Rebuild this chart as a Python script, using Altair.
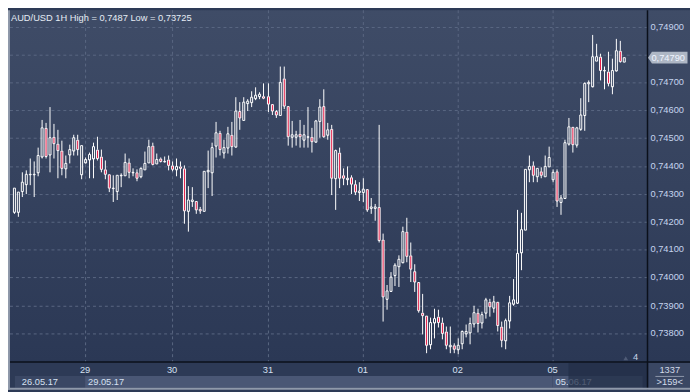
import altair as alt
import pandas as pd

title_text = "AUD/USD 1H High = 0,7487 Low = 0,73725"

# hourly OHLC, in units of 0.00001
opens = [74237, 74237, 74309, 74335, 74370, 74370, 74376, 74435, 74536, 74440,
         74506, 74481, 74457, 74391, 74440, 74457, 74495, 74370, 74412, 74422,
         74426, 74460, 74434, 74388, 74370, 74319, 74309, 74367, 74367, 74414,
         74377, 74379, 74365, 74388, 74414, 74472, 74410, 74426, 74416, 74422,
         74403, 74388, 74400, 74392, 74239, 74273, 74274, 74247, 74239, 74380,
         74378, 74473, 74521, 74450, 74467, 74513, 74470, 74597, 74565, 74627,
         74629, 74643, 74652, 74652, 74652, 74621, 74597, 74583, 74716, 74617,
         74504, 74507, 74516, 74496, 74507, 74507, 74487, 74562, 74617, 74512,
         74535, 74358, 74450, 74366, 74352, 74360, 74334, 74306, 74308, 74317,
         74249, 74249, 74253, 74136, 73922, 73951, 74008, 74041, 74055, 74163,
         74079, 74023, 73985, 73874, 73863, 73761, 73837, 73859, 73839, 73805,
         73752, 73756, 73742, 73763, 73799, 73802, 73835, 73872, 73837, 73872,
         73912, 73890, 73912, 73823, 73775, 73846, 73906, 73908, 74091, 74173,
         74387, 74401, 74364, 74380, 74364, 74398, 74353, 74382, 74272, 74286,
         74480, 74540, 74476, 74534, 74584, 74696, 74688, 74779, 74792, 74742,
         74740, 74688, 74742, 74814, 74775]
highs = [74321, 74307, 74377, 74385, 74426, 74416, 74466, 74565, 74556, 74612,
         74553, 74530, 74490, 74437, 74478, 74513, 74513, 74472, 74431, 74449,
         74484, 74507, 74460, 74420, 74370, 74367, 74367, 74373, 74446, 74428,
         74393, 74388, 74396, 74451, 74495, 74484, 74446, 74431, 74435, 74437,
         74415, 74426, 74415, 74403, 74328, 74325, 74276, 74254, 74380, 74455,
         74484, 74557, 74525, 74496, 74542, 74560, 74646, 74629, 74646, 74641,
         74669, 74681, 74666, 74698, 74698, 74623, 74600, 74756, 74759, 74617,
         74562, 74525, 74565, 74548, 74612, 74536, 74565, 74640, 74675, 74555,
         74547, 74459, 74467, 74390, 74399, 74366, 74349, 74343, 74355, 74317,
         74285, 74264, 74547, 74159, 73974, 74020, 74052, 74081, 74182, 74215,
         74124, 74046, 73985, 73942, 73863, 73855, 73887, 73884, 73855, 73825,
         73825, 73764, 73782, 73810, 73831, 73855, 73899, 73887, 73877, 73927,
         73924, 73933, 73912, 73841, 73854, 73933, 73993, 74242, 74231, 74387,
         74439, 74416, 74392, 74395, 74439, 74471, 74387, 74387, 74295, 74494,
         74572, 74540, 74540, 74644, 74702, 74708, 74870, 74838, 74803, 74757,
         74812, 74786, 74855, 74849, 74790]
lows = [74230, 74219, 74288, 74300, 74330, 74288, 74364, 74426, 74428, 74376,
        74428, 74356, 74367, 74358, 74408, 74437, 74437, 74352, 74408, 74358,
        74356, 74420, 74379, 74353, 74306, 74272, 74277, 74323, 74367, 74356,
        74362, 74344, 74356, 74388, 74414, 74402, 74408, 74414, 74414, 74385,
        74380, 74365, 74357, 74192, 74164, 74253, 74230, 74230, 74239, 74322,
        74291, 74432, 74438, 74426, 74444, 74438, 74467, 74531, 74565, 74597,
        74612, 74635, 74641, 74641, 74594, 74583, 74573, 74583, 74606, 74473,
        74467, 74473, 74465, 74467, 74467, 74450, 74484, 74502, 74502, 74494,
        74296, 74241, 74322, 74331, 74331, 74299, 74296, 74276, 74271, 74236,
        74229, 74203, 74124, 73841, 73886, 73948, 73971, 73965, 74052, 74056,
        73985, 73948, 73872, 73794, 73727, 73744, 73782, 73820, 73779, 73744,
        73727, 73727, 73725, 73742, 73785, 73761, 73820, 73802, 73817, 73852,
        73860, 73872, 73806, 73750, 73742, 73817, 73898, 73904, 74025, 74173,
        74341, 74341, 74341, 74357, 74364, 74398, 74343, 74253, 74225, 74283,
        74474, 74447, 74465, 74526, 74526, 74630, 74681, 74777, 74708, 74676,
        74688, 74658, 74739, 74773, 74775]
closes = [74321, 74307, 74342, 74370, 74371, 74370, 74437, 74536, 74435, 74503,
          74481, 74457, 74391, 74408, 74460, 74502, 74460, 74472, 74422, 74440,
          74469, 74426, 74388, 74370, 74319, 74319, 74367, 74367, 74414, 74377,
          74377, 74358, 74391, 74410, 74470, 74406, 74422, 74416, 74416, 74401,
          74388, 74400, 74392, 74239, 74278, 74278, 74241, 74239, 74380, 74384,
          74467, 74521, 74458, 74467, 74517, 74470, 74597, 74571, 74629, 74632,
          74646, 74654, 74657, 74644, 74621, 74597, 74583, 74701, 74617, 74507,
          74513, 74513, 74504, 74513, 74507, 74487, 74562, 74612, 74507, 74529,
          74358, 74457, 74358, 74355, 74357, 74334, 74306, 74310, 74317, 74244,
          74253, 74253, 74134, 73930, 73953, 74003, 74043, 74066, 74163, 74075,
          74029, 73985, 73880, 73864, 73758, 73839, 73852, 73837, 73799, 73758,
          73758, 73744, 73758, 73806, 73806, 73835, 73872, 73834, 73867, 73918,
          73896, 73912, 73827, 73775, 73846, 73908, 73919, 74086, 74173, 74387,
          74398, 74366, 74390, 74366, 74398, 74432, 74376, 74274, 74286, 74484,
          74540, 74476, 74536, 74584, 74696, 74699, 74792, 74792, 74744, 74744,
          74696, 74744, 74814, 74775, 74790]

day_idx = [18, 40, 64, 88, 112, 136]
day_labels = ["29", "30", "31", "01", "02", "05"]
date_idx = [1.2, 18, 136]
date_labels = ["26.05.17", "29.05.17", "05.06.17"]
band_start = [0.24, 18, 136]
band_end = [18, 136, 158.7]
band_colors = ["#3a4764", "#4a5775", "#4a5775"]
price_ticks = [0.738, 0.739, 0.740, 0.741, 0.742, 0.743, 0.744, 0.745,
               0.746, 0.747, 0.748, 0.749]
hidden_tick = 0.748
bars_total = "1337"
bars_visible = ">159<"
scroll_mark = "4"

W, H = 645, 356
PL, PR, PB = 2, 43, 28
X_DOMAIN = [0.24, 158.7]
Y_DOMAIN = [0.736962, 0.749595]
FONT = "Liberation Sans"
FS = 9.4

df = pd.DataFrame({
    "i": list(range(len(opens))),
    "o": [v / 1e5 for v in opens],
    "h": [v / 1e5 for v in highs],
    "l": [v / 1e5 for v in lows],
    "c": [v / 1e5 for v in closes],
})
df["top"] = df[["o", "c"]].max(axis=1)
df["bot"] = df[["o", "c"]].min(axis=1)

xs = alt.Scale(domain=X_DOMAIN, nice=False, zero=False, round=True)
ys = alt.Scale(domain=Y_DOMAIN, nice=False, zero=False, round=True)
one = pd.DataFrame({"k": [0]})

grad = alt.Gradient(
    gradient="linear",
    stops=[alt.GradientStop(color="#3f4c67", offset=0),
           alt.GradientStop(color="#2b3855", offset=1)],
    x1=0, x2=0, y1=0, y2=1,
)

bg = alt.Chart(one).mark_rect(fill=grad).encode(
    x=alt.value(0), x2=alt.value(W + PR), y=alt.value(0), y2=alt.value(H))

xpanel = alt.Chart(one).mark_rect(fill="#2d3a56").encode(
    x=alt.value(-PL), x2=alt.value(W), y=alt.value(H), y2=alt.value(H + PB))

bands_df = pd.DataFrame({"s": band_start, "e": band_end, "col": band_colors})
bands = alt.Chart(bands_df).mark_rect().encode(
    x=alt.X("s:Q", scale=xs, axis=None), x2="e:Q",
    y=alt.value(H + 14), y2=alt.value(H + PB - 2),
    fill=alt.Fill("col:N", scale=None))

hgrid = alt.Chart(pd.DataFrame({"p": price_ticks})).mark_rule(
    color="#5a6782", strokeDash=[3, 3], strokeWidth=1, yOffset=0.5).encode(
    y=alt.Y("p:Q", scale=ys, axis=None),
    x=alt.value(0), x2=alt.value(W))

vgrid = alt.Chart(pd.DataFrame({"d": day_idx})).mark_rule(
    color="#5a6782", strokeDash=[3, 3], strokeWidth=1, xOffset=0.5).encode(
    x=alt.X("d:Q", scale=xs, axis=None),
    y=alt.value(0), y2=alt.value(H))

ylab = alt.Chart(pd.DataFrame({"p": price_ticks})).transform_filter(
    f"abs(datum.p - {hidden_tick}) > 0.00001").transform_calculate(
    lbl="replace(format(datum.p, '.5f'), '.', ',')").mark_text(
    align="left", baseline="middle", font=FONT, fontSize=FS,
    color="#c4d4ee").encode(
    y=alt.Y("p:Q", scale=ys, axis=None), x=alt.value(W + 3), text="lbl:N")

xlab = alt.Chart(pd.DataFrame({"d": day_idx, "t": day_labels})).mark_text(
    align="center", baseline="middle", font=FONT, fontSize=FS,
    color="#d5e0f2").encode(
    x=alt.X("d:Q", scale=xs, axis=None), y=alt.value(H + 8), text="t:N")

wick_up = alt.Chart(df).mark_rule(color="white", strokeWidth=1, clip=True,
                                  xOffset=0.5).encode(
    x=alt.X("i:Q", scale=xs, axis=None),
    y=alt.Y("h:Q", scale=ys, axis=None), y2="top:Q")
wick_dn = alt.Chart(df).mark_rule(color="white", strokeWidth=1, clip=True,
                                  xOffset=0.5).encode(
    x=alt.X("i:Q", scale=xs, axis=None),
    y=alt.Y("bot:Q", scale=ys, axis=None), y2="l:Q")
bodies = alt.Chart(df).mark_bar(size=2, stroke="white", strokeWidth=1, clip=True,
                                xOffset=0.5, yOffset=0.5).encode(
    x=alt.X("i:Q", scale=xs, axis=None),
    y=alt.Y("o:Q", scale=ys, axis=None), y2="c:Q",
    fill=alt.condition("datum.c >= datum.o", alt.value("transparent"),
                       alt.value("#e3123f")))

sep_v = alt.Chart(one).mark_rule(color="#0b101b", strokeWidth=1.5).encode(
    x=alt.value(W), y=alt.value(0), y2=alt.value(H + PB))
sep_h = alt.Chart(one).mark_rule(color="#0b101b", strokeWidth=1.5).encode(
    x=alt.value(-PL), x2=alt.value(W + PR), y=alt.value(H))
border_b = alt.Chart(one).mark_rect(fill="#8f99aa").encode(
    x=alt.value(-PL), x2=alt.value(W + PR), y=alt.value(H + PB - 2), y2=alt.value(H + PB))
border_l = alt.Chart(one).mark_rect(fill="#8f99aa").encode(
    x=alt.value(-PL), x2=alt.value(0), y=alt.value(0), y2=alt.value(H + PB))

box = alt.Chart(one).mark_rect(fill="#3a4763").encode(
    x=alt.value(W + 1), x2=alt.value(W + PR), y=alt.value(H + 1), y2=alt.value(H + PB - 2))
box_line = alt.Chart(one).mark_rule(color="#8d97aa", strokeWidth=1).encode(
    x=alt.value(W + 8), x2=alt.value(W + PR - 6), y=alt.value(H + 14.5))
box_txt1 = alt.Chart(pd.DataFrame({"t": [bars_total]})).mark_text(
    align="center", baseline="middle", font=FONT, fontSize=FS, color="#d2dbea").encode(
    x=alt.value(W + PR / 2 + 1), y=alt.value(H + 8), text="t:N")
box_txt2 = alt.Chart(pd.DataFrame({"t": [bars_visible]})).mark_text(
    align="center", baseline="middle", font=FONT, fontSize=FS, color="#d2dbea").encode(
    x=alt.value(W + PR / 2 + 1), y=alt.value(H + 20), text="t:N")

dates = alt.Chart(pd.DataFrame({"d": date_idx, "t": date_labels})).mark_text(
    align="left", baseline="middle", dx=3, font=FONT, fontSize=FS, color="#d5e0f2").encode(
    x=alt.X("d:Q", scale=xs, axis=None), y=alt.value(H + 20), text="t:N")
overlay = alt.Chart(one).mark_rect(fill="#232f48", opacity=0.75).encode(
    x=alt.value(W - 80), x2=alt.value(W), y=alt.value(H + 1), y2=alt.value(H + PB - 2))

title = alt.Chart(pd.DataFrame({"t": [title_text]})).mark_text(
    align="left", baseline="middle", font=FONT, fontSize=FS, color="#e6ecf5").encode(
    x=alt.value(1), y=alt.value(8), text="t:N")

mark4 = alt.Chart(pd.DataFrame({"t": [scroll_mark]})).mark_text(
    align="center", baseline="middle", font=FONT, fontSize=FS, color="#c8d4e8").encode(
    x=alt.value(W - 12), y=alt.value(H - 5), text="t:N")
tri = alt.Chart(one).mark_point(shape="triangle-up", filled=True, size=22,
                                color="#4f5b76", opacity=1).encode(
    x=alt.value(W - 22), y=alt.value(H - 4))

last = df.tail(1).copy()
price_tag = alt.Chart(last).mark_point(
    shape="M0,0 L4,-6 L40,-6 L40,6 L4,6 Z", size=4, filled=True,
    fill="#aeb7c5", opacity=1).encode(
    x=alt.value(W + 0.5), y=alt.Y("c:Q", scale=ys, axis=None))
price_txt = alt.Chart(last).transform_calculate(
    lbl="replace(format(datum.c, '.5f'), '.', ',')").mark_text(
    align="left", baseline="middle", font=FONT, fontSize=FS, color="#eef4ff").encode(
    x=alt.value(W + 4), y=alt.Y("c:Q", scale=ys, axis=None), text="lbl:N")

chart = alt.layer(
    bg, xpanel, bands, hgrid, vgrid, wick_up, wick_dn, bodies,
    dates, overlay, box, box_line, box_txt1, box_txt2, sep_v, sep_h,
    border_b, border_l, ylab, xlab, title, tri, mark4, price_tag, price_txt,
).properties(
    width=W, height=H,
    padding={"left": PL, "top": 0, "right": PR, "bottom": PB},
    autosize=alt.AutoSizeParams(type="none"),
    background="#2d3a56",
).configure_view(stroke=None)

chart.save("out.html", embed_options={"renderer": "svg", "actions": False})
